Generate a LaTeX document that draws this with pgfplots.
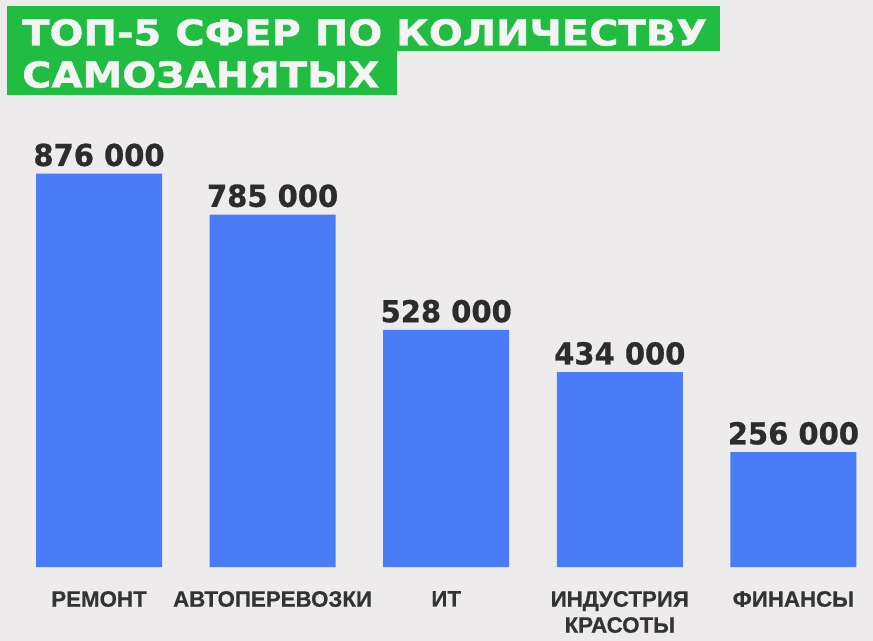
\documentclass[border=0pt]{standalone}
\usepackage{pgfplots}
\pgfplotsset{compat=1.18}
\usepackage{fontspec}
\setmainfont{Liberation Sans}
\newfontfamily\titlefont[FakeStretch=1.12,FakeBold=1.2]{DejaVu Sans}
\newfontfamily\valfont[FakeStretch=0.96,FakeBold=0.8]{DejaVu Sans}
\newfontfamily\catfont[FakeBold=0.6]{Liberation Sans}
\definecolor{bg}{HTML}{EEEBEC}
\definecolor{tgreen}{HTML}{20BD42}
\definecolor{twhite}{HTML}{F4F4F4}
\definecolor{barblue}{HTML}{497CF6}
\definecolor{valtext}{HTML}{2C2C2C}
\definecolor{cattext}{HTML}{333333}
\begin{document}
\begin{tikzpicture}
\fill[bg] (0,0) rectangle (873bp,641bp);
\fill[tgreen] (7bp,590bp) rectangle (720bp,635bp);
\fill[tgreen] (7bp,546bp) rectangle (397bp,590bp);
\node[anchor=base west, inner sep=0pt, text=twhite, font=\titlefont\bfseries\fontsize{35.7bp}{40bp}\selectfont] at (22bp,595.5bp) {ТОП-5 СФЕР ПО КОЛИЧЕСТВУ};
\node[anchor=base west, inner sep=0pt, text=twhite, font=\titlefont\bfseries\fontsize{35.7bp}{40bp}\selectfont] at (22bp,553.5bp) {САМОЗАНЯТЫХ};
\begin{axis}[
  at={(12.2bp,74bp)}, anchor=south west,
  scale only axis, width=868bp, height=449bp,
  xmin=-0.5, xmax=4.5, ymin=0, ymax=1000000,
  enlargelimits=false, clip=false,
  ybar, bar width=126bp,
  xtick=data,
  xticklabels={РЕМОНТ, АВТОПЕРЕВОЗКИ, ИТ, {ИНДУСТРИЯ\\КРАСОТЫ}, ФИНАНСЫ},
  xticklabel style={align=center, anchor=north, inner sep=0pt, yshift=-19.7bp, text=cattext, font=\catfont\bfseries\fontsize{22.3bp}{26bp}\selectfont},
  ytick=\empty,
  axis line style={draw=none},
  major tick style={draw=none},
  nodes near coords,
  point meta=explicit symbolic,
  nodes near coords style={anchor=base, inner sep=0pt, yshift=7.7bp, text=valtext, font=\valfont\bfseries\fontsize{30.2bp}{34bp}\selectfont},
]
\addplot[fill=barblue, draw=none] coordinates {
  (0,876000) [876 000]
  (1,785000) [785 000]
  (2,528000) [528 000]
  (3,434000) [434 000]
  (4,256000) [256 000]
};
\end{axis}
\pgfresetboundingbox
\useasboundingbox (0,0) rectangle (873bp,641bp);
\end{tikzpicture}
\end{document}
